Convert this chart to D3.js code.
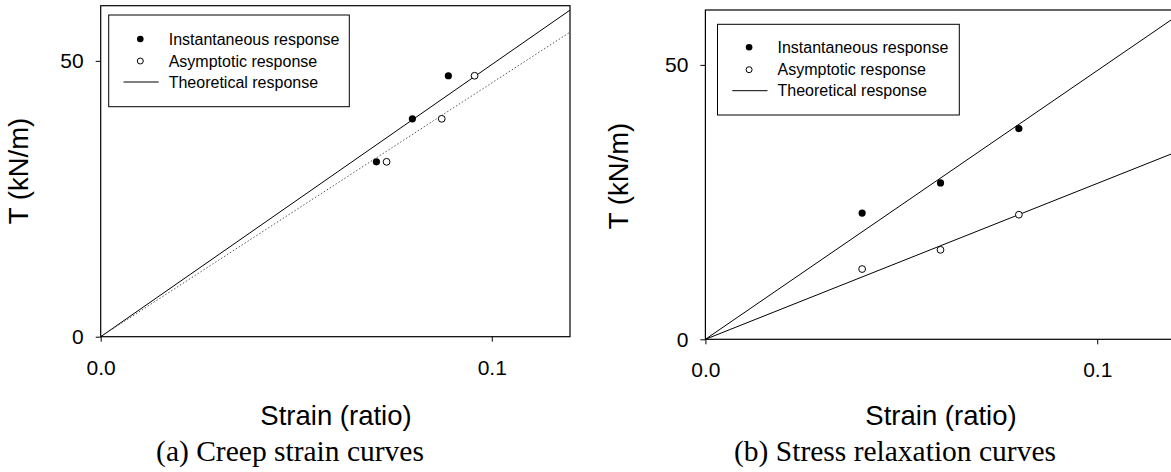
<!DOCTYPE html>
<html>
<head>
<meta charset="utf-8">
<script src="https://cdn.jsdelivr.net/npm/d3@7"></script>
<style>
  body { margin: 0; background: #fff; }
  svg { display: block; }
</style>
</head>
<body>
<svg id="chart" width="1171" height="472"></svg>
<script>
// (a) creep: strain vs T
const creepInstStrain = [0.0705, 0.0797, 0.0889];
const creepInstT = [31.7, 39.5, 47.3];
const creepAsymStrain = [0.0731, 0.0872, 0.0956];
const creepAsymT = [31.7, 39.5, 47.3];
const creepLineStrain = [0, 0.12];
const creepTheoryT = [0, 59.2];
const creepFitT = [0, 55.2];

// (b) relaxation
const relaxStrain = [0.04, 0.06, 0.08];
const relaxInstT = [23.0, 28.5, 38.4];
const relaxAsymT = [12.8, 16.3, 22.7];
const relaxLineStrain = [0, 0.125];
const relaxTheoryInstT = [0, 61.2];
const relaxTheoryAsymT = [0, 35.5];

const xTicks = [0, 0.1];
const yTicks = [0, 50];
const legendLabels = ["Instantaneous response", "Asymptotic response", "Theoretical response"];

const svg = d3.select("#chart");
const zip = (xs, ys) => xs.map((x, i) => [x, ys[i]]);
const SANS = "Arial, 'Liberation Sans', sans-serif";

function drawPanel(p) {
  const x = d3.scaleLinear().domain([0, 0.12]).range([p.left, p.right]);
  const y = d3.scaleLinear().domain([0, 60]).range([p.bottom, p.top]);
  const g = svg.append("g");

  g.append("clipPath").attr("id", p.id + "clip")
    .append("rect")
    .attr("x", p.left).attr("y", p.top)
    .attr("width", p.right - p.left).attr("height", p.bottom - p.top);

  // lines
  const line = d3.line().x(d => x(d[0])).y(d => y(d[1]));
  const lg = g.append("g").attr("clip-path", "url(#" + p.id + "clip)");
  p.lines.forEach(l => {
    lg.append("path")
      .attr("d", line(l.pts))
      .attr("fill", "none")
      .attr("stroke", l.dotted ? "#555" : "#000")
      .attr("stroke-width", 1)
      .attr("stroke-dasharray", l.dotted ? "1.5,2" : null);
  });

  // points
  g.selectAll(".inst").data(p.inst).enter().append("circle")
    .attr("cx", d => x(d[0])).attr("cy", d => y(d[1]))
    .attr("r", 3.6).attr("fill", "#000");
  g.selectAll(".asym").data(p.asym).enter().append("circle")
    .attr("cx", d => x(d[0])).attr("cy", d => y(d[1]))
    .attr("r", 3.4).attr("fill", "#fff").attr("stroke", "#000").attr("stroke-width", 1);

  // frame
  g.append("rect")
    .attr("x", p.left).attr("y", p.top)
    .attr("width", p.right - p.left).attr("height", p.bottom - p.top)
    .attr("fill", "none").attr("stroke", "#000").attr("stroke-width", 1.2);

  // axes
  const ax = g.append("g").attr("transform", "translate(0," + p.bottom + ")")
    .call(d3.axisBottom(x).tickValues(xTicks).tickFormat(d3.format(".1f"))
      .tickSize(5).tickPadding(18));
  const ay = g.append("g").attr("transform", "translate(" + p.left + ",0)")
    .call(d3.axisLeft(y).tickValues(yTicks).tickFormat(d3.format("d"))
      .tickSize(5).tickPadding(12));
  [ax, ay].forEach(a => {
    a.select(".domain").remove();
    a.selectAll("text").attr("font-family", SANS)
      .attr("font-size", 21).attr("fill", "#000");
    a.selectAll("line").attr("stroke", "#000");
  });

  // titles
  g.append("text")
    .attr("x", p.xTitleX).attr("y", 424.5)
    .attr("text-anchor", "middle")
    .attr("font-family", SANS)
    .attr("font-size", 27.5)
    .text("Strain (ratio)");
  g.append("text")
    .attr("transform", "translate(" + p.yTitleX + "," + p.yTitleY + ") rotate(-90)")
    .attr("text-anchor", "middle")
    .attr("font-family", SANS)
    .attr("font-size", 27.5)
    .text("T (kN/m)");
  g.append("text")
    .attr("x", p.capX).attr("y", 461)
    .attr("text-anchor", "middle")
    .attr("font-family", "'Times New Roman', 'Liberation Serif', serif")
    .attr("font-size", 29.5)
    .text(p.caption);

  // legend
  const L = p.legend;
  g.append("rect")
    .attr("x", L.x).attr("y", L.y).attr("width", L.w).attr("height", L.h)
    .attr("fill", "#fff").attr("stroke", "#000").attr("stroke-width", 1);
  legendLabels.forEach((lab, i) => {
    const ry = L.y + L.rows[i];
    if (i === 0) g.append("circle").attr("cx", L.x + 31.6).attr("cy", ry).attr("r", 3.3).attr("fill", "#000");
    if (i === 1) g.append("circle").attr("cx", L.x + 31.6).attr("cy", ry).attr("r", 3).attr("fill", "#fff").attr("stroke", "#000");
    if (i === 2) g.append("line").attr("x1", L.x + 14.8).attr("x2", L.x + 50).attr("y1", ry).attr("y2", ry).attr("stroke", "#000");
    g.append("text")
      .attr("x", L.x + 60).attr("y", ry + 5.5)
      .attr("font-family", SANS)
      .attr("font-size", 16)
      .text(lab);
  });
}

drawPanel({
  id: "a", left: 100.7, right: 570, top: 5.7, bottom: 336.7,
  inst: zip(creepInstStrain, creepInstT),
  asym: zip(creepAsymStrain, creepAsymT),
  lines: [
    { pts: zip(creepLineStrain, creepTheoryT), dotted: false },
    { pts: zip(creepLineStrain, creepFitT), dotted: true }
  ],
  xTitleX: 336, yTitleX: 28, yTitleY: 171, capX: 290,
  caption: "(a) Creep strain curves",
  legend: { x: 108.7, y: 15, w: 240.6, h: 91.7, rows: [24, 46, 67] }
});

drawPanel({
  id: "b", left: 705.4, right: 1175.6, top: 10, bottom: 339.3,
  inst: zip(relaxStrain, relaxInstT),
  asym: zip(relaxStrain, relaxAsymT),
  lines: [
    { pts: zip(relaxLineStrain, relaxTheoryInstT), dotted: false },
    { pts: zip(relaxLineStrain, relaxTheoryAsymT), dotted: false }
  ],
  xTitleX: 941, yTitleX: 628, yTitleY: 176, capX: 895,
  caption: "(b) Stress relaxation curves",
  legend: { x: 717.5, y: 24.3, w: 241.8, h: 90.7, rows: [23, 45.4, 66.4] }
});
</script>
</body>
</html>
